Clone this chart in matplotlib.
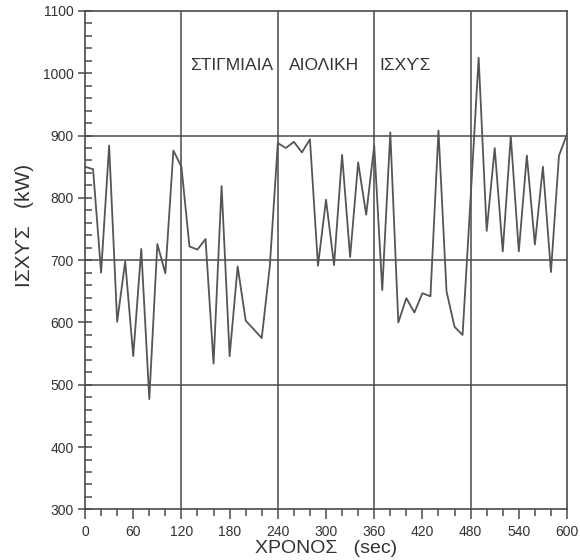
import matplotlib
matplotlib.use("Agg")
import matplotlib.pyplot as plt
from matplotlib import font_manager
from matplotlib.ticker import MultipleLocator
import numpy as np

# time axis (sec) and instantaneous wind power (kW)
time_s = np.arange(0, 601, 10)
power_kw = [850, 846, 680, 884, 601, 698, 546, 718, 477, 726,
            679, 876, 850, 722, 717, 734, 534, 819, 546, 690,
            603, 589, 575, 690, 888, 880, 890, 873, 894, 691,
            797, 692, 869, 705, 857, 773, 884, 652, 905, 600,
            639, 616, 647, 642, 908, 650, 593, 580, 800, 1025,
            747, 880, 714, 899, 714, 868, 725, 850, 681, 868,
            902]

x_ticks = list(range(0, 601, 60))
y_ticks = list(range(300, 1101, 100))
x_grid = [120, 240, 360, 480]
y_grid = [500, 700, 900]

title_words = ["ΣΤΙΓΜΙΑΙΑ", "ΑΙΟΛΙΚΗ", "ΙΣΧϒΣ"]
title_x = [131, 254, 366]
x_label = "ΧΡΟΝΟΣ   (sec)"
y_label = "ΙΣΧϒΣ   (kW)"

names = {f.name for f in font_manager.fontManager.ttflist}
main_font = "Liberation Sans Narrow" if "Liberation Sans Narrow" in names else "Liberation Sans"
plt.rcParams['font.family'] = [main_font, 'DejaVu Sans']

ink = "#4a4a4a"

fig = plt.figure(figsize=(5.8, 5.6), dpi=100)
ax = fig.add_axes([0.1466, 0.0904, 0.831, 0.890])

for gx in x_grid:
    ax.axvline(gx, color=ink, lw=1.1, zorder=1)
for gy in y_grid:
    ax.axhline(gy, color=ink, lw=1.1, zorder=1)

ax.plot(time_s, power_kw, color="#555555", lw=1.3, zorder=2)

ax.set_xlim(0, 600)
ax.set_ylim(300, 1100)
ax.set_xticks(x_ticks)
ax.set_yticks(y_ticks)
ax.xaxis.set_minor_locator(MultipleLocator(20))
ax.yaxis.set_minor_locator(MultipleLocator(20))

ax.tick_params(axis="x", which="major", direction="out", length=7, width=1.1,
               color=ink, labelcolor="#333333", labelsize=10, pad=4)
ax.tick_params(axis="x", which="minor", direction="out", length=5, width=1.1, color=ink)
ax.tick_params(axis="y", which="major", direction="inout", length=10, width=1.1,
               color=ink, labelcolor="#333333", labelsize=10, pad=3)
ax.tick_params(axis="y", which="minor", direction="in", length=5, width=1.1, color=ink)

for sp in ax.spines.values():
    sp.set_color(ink)
    sp.set_linewidth(1.2)

for word, tx in zip(title_words, title_x):
    ax.text(tx, 1012, word, fontsize=12.5, color="#333333",
            ha="left", va="center")

ax.set_xlabel(x_label, fontsize=14, color="#333333", labelpad=1)
ax.set_ylabel(y_label, fontsize=15, color="#333333", labelpad=8)
ax.yaxis.set_label_coords(-0.105, 0.57)

fig.savefig("out.png", dpi=100)
